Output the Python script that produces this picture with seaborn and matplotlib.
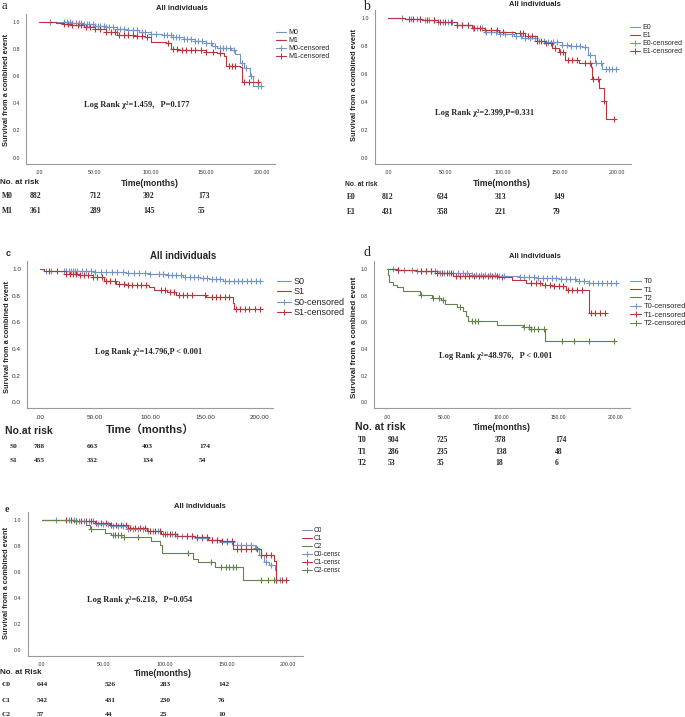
import numpy as np
import pandas as pd
import matplotlib
matplotlib.use("Agg")
import matplotlib.pyplot as plt
from matplotlib.lines import Line2D
from matplotlib.patches import Rectangle
import seaborn as sns

W, H = 685, 717
BLUE = "#7393c9"
RED = "#b8353d"
GREEN = "#63834b"

xtick_labels = [".00", "50.00", "100.00", "150.00", "200.00"]
ytick_labels = ["0.0", "0.2", "0.4", "0.6", "0.8", "1.0"]

# ---- panel a (M) ----
m0_t = [0, 20, 30, 40, 50, 60, 70, 80, 90, 100, 110, 120, 130, 140, 150, 155, 160, 172, 176, 180, 184, 189, 192, 200]
m0_s = [1.0, 0.995, 0.99, 0.982, 0.97, 0.958, 0.948, 0.938, 0.925, 0.912, 0.902, 0.89, 0.875, 0.86, 0.845, 0.82, 0.805, 0.79, 0.76, 0.70, 0.66, 0.60, 0.53, 0.53]
m0_cens = [10, 22, 25, 28, 30, 33, 36, 38, 40, 43, 45, 48, 50, 53, 55, 58, 60, 63, 66, 70, 73, 76, 80, 84, 88, 92, 95, 100,
           105, 112, 115, 118, 120, 123, 126, 130, 133, 136, 140, 143, 146, 150, 154, 158, 162, 165, 168, 171, 175, 182, 186, 190, 196, 199]
m1_t = [0, 15, 22, 30, 40, 50, 60, 70, 85, 95, 100, 114, 118, 125, 150, 160, 166, 168, 180, 182, 197]
m1_s = [1.0, 0.99, 0.985, 0.975, 0.96, 0.945, 0.925, 0.905, 0.895, 0.885, 0.85, 0.845, 0.80, 0.795, 0.78, 0.77, 0.75, 0.675, 0.67, 0.56, 0.56]
m1_cens = [22, 26, 30, 35, 38, 42, 46, 50, 55, 60, 65, 68, 72, 76, 80, 84, 88, 92, 97, 116, 120, 124, 128, 132, 136, 140,
           145, 150, 156, 162, 170, 173, 176, 184, 188, 196]
m_risk = [[882, 712, 392, 173], [361, 289, 145, 55]]

# ---- panel b (E) ----
e0_t = [0, 15, 30, 44, 60, 73, 85, 97, 110, 117, 130, 137, 152, 160, 169, 175, 181, 187, 198]
e0_s = [1.0, 0.995, 0.99, 0.976, 0.95, 0.928, 0.905, 0.887, 0.87, 0.857, 0.84, 0.832, 0.808, 0.80, 0.792, 0.737, 0.68, 0.634, 0.634]
e0_cens = [12, 20, 25, 28, 32, 36, 40, 44, 48, 52, 56, 60, 65, 70, 74, 78, 82, 86, 90, 94, 98, 102, 108, 112, 116, 120, 124,
           128, 132, 136, 140, 144, 148, 152, 156, 160, 164, 168, 172, 176, 182, 186, 190, 193, 196, 199]
e1_t = [0, 15, 30, 44, 60, 73, 85, 97, 111, 120, 130, 137, 143, 149, 155, 167, 177, 178, 184, 188.5, 190, 197]
e1_s = [1.0, 0.995, 0.99, 0.976, 0.95, 0.928, 0.915, 0.904, 0.896, 0.87, 0.84, 0.82, 0.79, 0.76, 0.70, 0.677, 0.653, 0.562, 0.498, 0.41, 0.275, 0.275]
e1_cens = [18, 22, 28, 34, 40, 45, 50, 55, 60, 65, 70, 75, 80, 85, 90, 95, 100, 115, 118, 122, 126, 130, 134, 138, 142, 146,
           150, 153, 157, 161, 165, 172, 176, 179, 183, 189, 197]
e_risk = [[812, 634, 313, 149], [431, 358, 221, 79]]

# ---- panel c (S) ----
s0_t = [0, 4, 24, 50, 78, 100, 115, 130, 145, 154, 166, 200]
s0_s = [1.0, 0.99, 0.985, 0.978, 0.97, 0.965, 0.955, 0.945, 0.935, 0.925, 0.912, 0.912]
s0_cens = [5, 10, 22, 24, 26, 28, 30, 32, 34, 38, 42, 46, 50, 55, 60, 65, 70, 75, 80, 85, 90, 95, 100, 108, 112, 116, 120,
           124, 128, 132, 136, 140, 144, 148, 152, 156, 160, 164, 168, 172, 176, 180, 184, 188, 192, 196, 200]
s1_t = [0, 4, 13, 24, 35, 48, 58, 69, 78, 99, 104, 115, 124, 135, 151, 175, 176, 200]
s1_s = [1.0, 0.99, 0.985, 0.968, 0.958, 0.942, 0.915, 0.892, 0.88, 0.87, 0.842, 0.83, 0.81, 0.805, 0.792, 0.745, 0.705, 0.705]
s1_cens = [8, 15, 24, 27, 30, 33, 36, 40, 44, 48, 52, 56, 60, 64, 68, 72, 76, 80, 84, 88, 92, 96, 110, 114, 118, 122, 126,
           130, 134, 138, 150, 156, 160, 164, 168, 172, 178, 182, 186, 190, 195, 200]
s_risk = [[788, 663, 403, 174], [455, 332, 134, 54]]

# ---- panel d (T) ----
t0_t = [0, 10, 25, 45, 74, 95, 115, 130, 150, 165, 176, 200]
t0_s = [1.0, 0.993, 0.985, 0.975, 0.96, 0.952, 0.942, 0.935, 0.925, 0.912, 0.9, 0.9]
t0_cens = [5, 10, 15, 22, 26, 30, 34, 38, 42, 46, 50, 54, 58, 62, 66, 70, 74, 78, 82, 86, 90, 94, 98, 102, 116, 120, 124,
           128, 132, 136, 140, 144, 148, 152, 156, 160, 164, 168, 172, 176, 180, 184, 188, 192, 196, 200]
t1_t = [0, 10, 25, 44, 58, 97, 109, 121, 135, 144, 156, 176, 190.7]
t1_s = [1.0, 0.993, 0.985, 0.975, 0.95, 0.942, 0.917, 0.9, 0.885, 0.874, 0.842, 0.674, 0.674]
t1_cens = [10, 30, 34, 38, 44, 48, 52, 56, 60, 64, 68, 72, 76, 80, 84, 88, 92, 96, 100, 126, 130, 134, 138, 142, 146, 150,
           154, 158, 162, 166, 170, 178, 182, 186, 190]
t2_t = [0, 1, 2, 5, 9, 14, 29, 39, 47, 51, 61, 66, 69, 71, 96, 119, 124, 138, 198]
t2_s = [1.0, 0.955, 0.905, 0.88, 0.865, 0.84, 0.805, 0.785, 0.766, 0.74, 0.716, 0.69, 0.652, 0.61, 0.583, 0.566, 0.553, 0.461, 0.461]
t2_cens = [30, 40, 45, 48.6, 64, 74, 76.6, 79.5, 119.4, 123.7, 126, 128.7, 131.6, 136.8, 152.8, 163, 176, 198]
t_risk = [[904, 725, 378, 174], [286, 235, 138, 48], [53, 35, 18, 6]]

# ---- panel e (C) ----
c0_t = [0, 29, 43, 55, 70, 85, 97, 110, 124, 135, 146, 155, 173, 176, 180, 184, 189, 190, 193]
c0_s = [1.0, 0.995, 0.97, 0.955, 0.933, 0.915, 0.895, 0.88, 0.862, 0.848, 0.83, 0.805, 0.785, 0.728, 0.677, 0.651, 0.614, 0.536, 0.536]
c0_cens = [12, 22, 26, 30, 34, 38, 42, 46, 50, 54, 58, 62, 66, 70, 74, 78, 82, 86, 90, 94, 98, 102, 106, 110, 114, 118, 122,
           126, 130, 134, 138, 142, 146, 150, 154, 158, 162, 166, 170, 174, 178, 182, 186, 190, 193]
c1_t = [0, 25, 43, 55, 70, 85, 97, 110, 124, 135, 146, 155, 178, 188, 190, 198.6]
c1_s = [1.0, 0.995, 0.975, 0.96, 0.938, 0.915, 0.895, 0.88, 0.868, 0.85, 0.835, 0.78, 0.733, 0.682, 0.54, 0.54]
c1_cens = [20, 24, 28, 32, 36, 40, 44, 48, 52, 56, 60, 64, 68, 72, 76, 80, 84, 88, 92, 96, 100, 104, 108, 118, 122, 126, 130,
           134, 138, 142, 146, 150, 154, 158, 162, 166, 170, 175, 178, 182, 186, 190, 195, 198]
c2_t = [0, 26.5, 36, 39, 51, 56, 64.5, 89, 96, 97.5, 123, 127, 140.5, 163.4, 190.5]
c2_s = [1.0, 0.99, 0.964, 0.933, 0.9, 0.882, 0.87, 0.836, 0.805, 0.746, 0.702, 0.677, 0.638, 0.536, 0.536]
c2_cens = [27.8, 40, 57.6, 59.5, 61.6, 64.3, 67, 77.9, 118.4, 137.3, 145.4, 149.5, 152.2, 154.9, 157.6, 177.9, 183.3, 188.7]
c_risk = [[644, 526, 283, 142], [542, 431, 230, 76], [57, 44, 25, 10]]

XLIM = (-11.5, 212)
YLIM = (-0.045, 1.06)

sns.set_style("white")
plt.rcParams["font.family"] = ["Liberation Sans", "Noto Sans CJK SC"]
SERIF = ["Liberation Serif", "Noto Serif CJK SC", "Noto Sans CJK SC"]
SANS = ["Liberation Sans", "Noto Sans CJK SC"]

fig = plt.figure(figsize=(W / 100, H / 100), dpi=100)


def ftext(x, y, s, **kw):
    kw.setdefault("va", "center")
    fig.text(x / W, 1 - y / H, s, **kw)


def add_panel(x0, x200, y1, y0, tick_fs):
    # axes placed so that tick 0 / 200 and 1.0 / 0.0 land on the given pixels
    sx = (x200 - x0) / 200
    sy = y0 - y1
    left, right = x0 + XLIM[0] * sx, x0 + XLIM[1] * sx
    top, bottom = y1 - (YLIM[1] - 1) * sy, y0 - YLIM[0] * sy
    ax = fig.add_axes([left / W, 1 - bottom / H, (right - left) / W, (bottom - top) / H])
    ax.set_xlim(*XLIM)
    ax.set_ylim(*YLIM)
    ax.set_xticks([0, 50, 100, 150, 200])
    ax.set_xticklabels(xtick_labels)
    ax.set_yticks([0, 0.2, 0.4, 0.6, 0.8, 1.0])
    ax.set_yticklabels(ytick_labels)
    for sp in ["top", "right"]:
        ax.spines[sp].set_visible(False)
    for sp in ["left", "bottom"]:
        ax.spines[sp].set_color("#9a9a9a")
        ax.spines[sp].set_linewidth(0.8)
    ax.tick_params(labelsize=tick_fs, length=1.5, width=0.5, color="#9a9a9a", pad=3, labelcolor="#333333")
    return ax


def km(ax, t, s, cens, color):
    df = pd.DataFrame({"t": t, "s": s})
    sns.lineplot(data=df, x="t", y="s", drawstyle="steps-post", color=color, lw=0.8,
                 estimator=None, sort=False, legend=False, ax=ax)
    t = np.asarray(t)
    s = np.asarray(s)
    idx = np.searchsorted(t, cens, side="right") - 1
    sns.scatterplot(x=cens, y=s[idx], marker="+", color=color, s=20, linewidth=0.8, legend=False, ax=ax)
    ax.set_xlabel("")
    ax.set_ylabel("")


def legend(names, colors, x, y, fs):
    handles = [Line2D([], [], color=c, lw=0.8) for c in colors]
    handles += [Line2D([], [], color=c, lw=0.8, marker="+", markersize=5, markeredgewidth=0.7) for c in colors]
    labels = list(names) + [n + "-censored" for n in names]
    fig.legend(handles, labels, loc="upper left", bbox_to_anchor=(x / W, 1 - y / H), frameon=False,
               fontsize=fs, handlelength=1.5, labelspacing=0.15, borderpad=0, borderaxespad=0,
               handletextpad=0.3)


panels = [
    dict(ticks=(39, 262, 21.7, 157.7), tick_fs=3.8,
         curves=[(m0_t, m0_s, m0_cens, BLUE), (m1_t, m1_s, m1_cens, RED)], names=["M0", "M1"],
         letter=("a", 2, 6, SERIF, 9, "normal"), title=(182, 9, 5.5),
         ylab=(7, 90, 5.3), leg=(276, 29, 5),
         logrank=(84, 105, "Log Rank χ²=1.459，P=0.177", 6),
         tlab=(150, 183, "Time(months)", 6.3), nrisk=(0, 182, "No. at risk", 5.8),
         risk=m_risk, rx=[30, 90, 143, 198], ry=[196, 211], rowx=2, rfs=5.5),
    dict(ticks=(388, 617, 18.3, 157.7), tick_fs=3.8,
         curves=[(e0_t, e0_s, e0_cens, BLUE), (e1_t, e1_s, e1_cens, RED)], names=["E0", "E1"],
         letter=("b", 363, 7, SERIF, 10, "normal"), title=(535, 4, 5.5),
         ylab=(355, 85, 5.3), leg=(630, 24, 5),
         logrank=(435, 113, "Log Rank χ²=2.399,P=0.331", 6),
         tlab=(502, 183, "Time(months)", 6.3), nrisk=(345, 184, "No. at risk", 4.8),
         risk=e_risk, rx=[382, 437, 495, 553], ry=[197, 212], rowx=347, rfs=5.5),
    dict(ticks=(40, 260, 269.3, 402.3), tick_fs=4.6,
         curves=[(s0_t, s0_s, s0_cens, BLUE), (s1_t, s1_s, s1_cens, RED)], names=["S0", "S1"],
         letter=("c", 6, 254, SANS, 6.5, "bold"), title=(183, 256, 7),
         ylab=(8, 337, 5.3), leg=(277, 277, 6.5),
         logrank=(95, 352, "Log Rank χ²=14.796,P < 0.001", 6),
         tlab=(150, 430, "Time（months）", 8), nrisk=(5, 431, "No.at risk", 7.5),
         risk=s_risk, rx=[34, 87, 142, 199], ry=[447, 461], rowx=10, rfs=5.3),
    dict(ticks=(387, 616, 269.3, 402.3), tick_fs=3.6,
         curves=[(t0_t, t0_s, t0_cens, BLUE), (t1_t, t1_s, t1_cens, RED), (t2_t, t2_s, t2_cens, GREEN)],
         names=["T0", "T1", "T2"],
         letter=("d", 363, 253, SERIF, 10, "normal"), title=(535, 256, 5.5),
         ylab=(355, 337, 5.8), leg=(630, 278, 5.4),
         logrank=(439, 356, "Log Rank χ²=48.976，P < 0.001", 6),
         tlab=(502, 428, "Time(months)", 6.3), nrisk=(355, 427, "No. at risk", 7.5),
         risk=t_risk, rx=[388, 437, 495, 555], ry=[440, 452, 463], rowx=358, rfs=5.5),
    dict(ticks=(41.7, 288.3, 520, 650), tick_fs=3.8,
         curves=[(c0_t, c0_s, c0_cens, BLUE), (c1_t, c1_s, c1_cens, RED), (c2_t, c2_s, c2_cens, GREEN)],
         names=["C0", "C1", "C2"],
         letter=("e", 5, 509, SERIF, 7, "bold"), title=(200, 506, 5.5),
         ylab=(7, 583, 5.3), leg=(302, 527, 4.8),
         logrank=(87, 600, "Log Rank χ²=6.218，P=0.054", 6),
         tlab=(163, 673, "Time(months)", 6.3), nrisk=(0, 673, "No. at Risk", 5.8),
         risk=c_risk, rx=[37, 105, 160, 218], ry=[685, 700, 714], rowx=2, rfs=5.3),
]

for p in panels:
    ax = add_panel(*p["ticks"], p["tick_fs"])
    for t, s, cens, col in p["curves"]:
        km(ax, t, s, cens, col)
    ch, lx, ly, fam, fs, fw = p["letter"]
    ftext(lx, ly, ch, family=fam, fontsize=fs, fontweight=fw, ha="left")
    tx, ty, tfs = p["title"]
    ftext(tx, ty, "All individuals", fontsize=tfs, fontweight="bold", ha="center")
    yx, yy, yfs = p["ylab"]
    ftext(yx, yy, "Survival from a combined event", fontsize=yfs, fontweight="bold",
          rotation=90, ha="center")
    legend(p["names"], [c[3] for c in p["curves"]], *p["leg"])
    lx, ly, ltxt, lfs = p["logrank"]
    ftext(lx, ly, ltxt, family=SERIF, fontsize=lfs, fontweight="bold", ha="left")
    tx, ty, ttxt, tfs = p["tlab"]
    ftext(tx, ty, ttxt, family=SANS, fontsize=tfs, fontweight="bold", ha="center")
    nx, ny, ntxt, nfs = p["nrisk"]
    ftext(nx, ny, ntxt, fontsize=nfs, fontweight="bold", ha="left")
    for name, row, ry in zip(p["names"], p["risk"], p["ry"]):
        ftext(p["rowx"], ry, name, family=SERIF, fontsize=p["rfs"], fontweight="bold", ha="left")
        for val, rx in zip(row, p["rx"]):
            ftext(rx, ry, str(val), family=SERIF, fontsize=p["rfs"], fontweight="bold", ha="left")

# panel e's legend is cut off at the panel edge in the source figure
fig.add_artist(Rectangle((340 / W, 1 - 585 / H), (W - 340) / W, 70 / H, transform=fig.transFigure,
                         facecolor="white", edgecolor="none", zorder=10))

fig.savefig("out.png", dpi=100)
